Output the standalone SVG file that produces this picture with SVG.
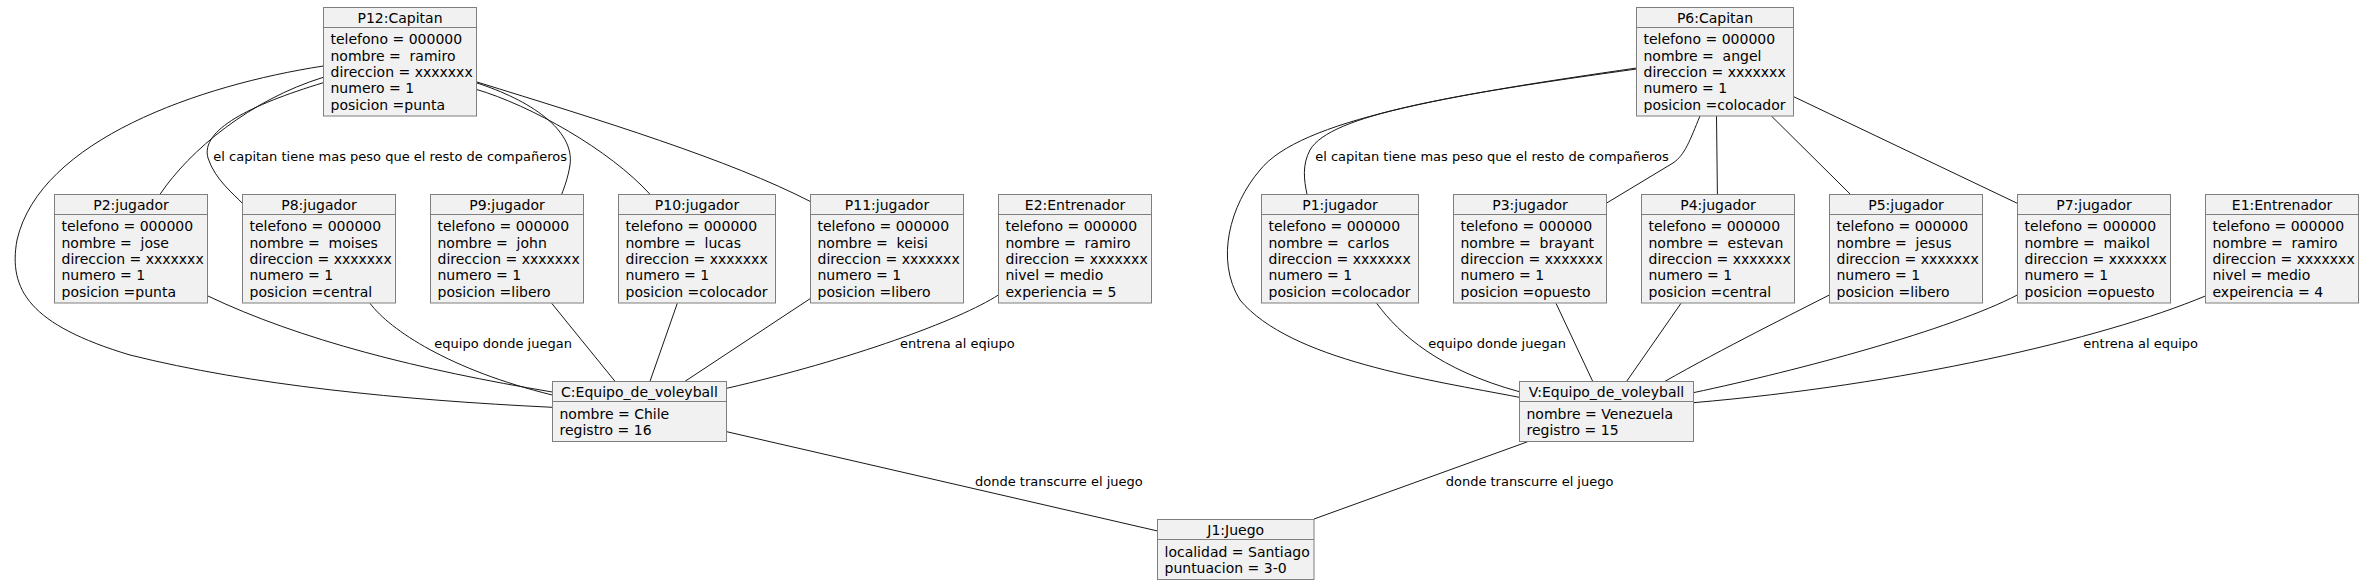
<svg xmlns="http://www.w3.org/2000/svg" width="2364" height="585" viewBox="0 0 2364 585">
<style>
.box{fill:#F1F1F1;stroke:#7F7F7F;stroke-width:1}
.sep{stroke:#7F7F7F;stroke-width:1}
.h{font-family:"DejaVu Sans",sans-serif;font-size:14px;text-anchor:middle;fill:#000}
.a{font-family:"DejaVu Sans",sans-serif;font-size:14px;fill:#000;white-space:pre}
.lbl{font-family:"DejaVu Sans",sans-serif;font-size:13px;fill:#000;white-space:pre}
.ln{fill:none;stroke:#181818;stroke-width:1}
</style>
<rect width="2364" height="585" fill="#FFFFFF"/>

<g id="connectors">
<!-- P12 links -->
<path class="ln" d="M323.3,66 C200,85 40,140 17,240 C8,290 30,325 130,355 C250,385 400,400 552.3,407.3"/>
<path class="ln" d="M323.3,77.3 C250,100 190,150 160,194.3"/>
<path class="ln" d="M323.3,82.7 C250,105 200,130 208,158 C215,180 235,195 242.3,203.3"/>
<path class="ln" d="M476,82.7 C530,100 575,130 570,165 C568,178 564,188 561.7,194.3"/>
<path class="ln" d="M476,89.3 C530,105 610,150 650,194.3"/>
<path class="ln" d="M476,81.7 C600,120 730,160 810.7,201.7"/>
<!-- to C -->
<path class="ln" d="M207.3,295.7 C300,340 420,370 552.3,392"/>
<path class="ln" d="M370,303.3 C390,330 450,370 552.3,395"/>
<path class="ln" d="M551.7,303.3 L615,381.3"/>
<path class="ln" d="M677.3,303.3 L650,381.3"/>
<path class="ln" d="M810.7,298.3 L685,381.3"/>
<path class="ln" d="M998.3,295 C960,320 850,360 726.7,388.3"/>
<path class="ln" d="M726.7,431.7 L1157.7,531"/>
<!-- P6 links -->
<path class="ln" d="M1636.6,68 C1450,95 1300,120 1260,170 C1230,205 1215,260 1240,300 C1290,360 1430,380 1519.3,397.3"/>
<path class="ln" d="M1636.6,69 C1450,95 1330,115 1310,150 C1302,165 1304,180 1307,194.3"/>
<path class="ln" d="M1700,116 C1690,140 1685,155 1673,163 L1606.2,203.3"/>
<path class="ln" d="M1716.5,116 L1717.4,194.3"/>
<path class="ln" d="M1771.4,116 L1850.4,194.3"/>
<path class="ln" d="M1793.7,96.7 L2017.3,203.3"/>
<!-- to V -->
<path class="ln" d="M1376.7,303.3 C1400,335 1440,370 1519.3,391.7"/>
<path class="ln" d="M1556,303.3 L1592.7,381.3"/>
<path class="ln" d="M1681,303.3 L1626.7,381.3"/>
<path class="ln" d="M1829.3,295 C1800,310 1720,350 1665,381.3"/>
<path class="ln" d="M2017.3,295 C1950,330 1800,370 1693.3,392.7"/>
<path class="ln" d="M2205.3,296 C2100,340 1900,385 1693.3,402.7"/>
<path class="ln" d="M1527.7,441.7 L1314,519"/>
<!-- labels -->
<text class="lbl" x="213.3" y="160.5">el capitan tiene mas peso que el resto de compañeros</text>
<text class="lbl" x="1315.2" y="160.5">el capitan tiene mas peso que el resto de compañeros</text>
<text class="lbl" x="434.3" y="347.5">equipo donde juegan</text>
<text class="lbl" x="900" y="347.5">entrena al eqiupo</text>
<text class="lbl" x="975" y="485.5">donde transcurre el juego</text>
<text class="lbl" x="1428.3" y="347.5">equipo donde juegan</text>
<text class="lbl" x="2083.3" y="347.5">entrena al equipo</text>
<text class="lbl" x="1445.7" y="485.5">donde transcurre el juego</text>
</g>

<g id="P12" transform="translate(323.5,7.5)">
<rect class="box" width="153" height="108.5"/><line class="sep" x1="0" y1="20" x2="153" y2="20"/>
<text class="h" x="76.5" y="15">P12:Capitan</text>
<text class="a" x="7" y="36.8">telefono = 000000</text><text class="a" x="7" y="53.1">nombre =  ramiro</text><text class="a" x="7" y="69.4">direccion = xxxxxxx</text><text class="a" x="7" y="85.7">numero = 1</text><text class="a" x="7" y="102">posicion =punta</text>
</g>
<g id="P6" transform="translate(1636.5,7.5)">
<rect class="box" width="157" height="108.5"/><line class="sep" x1="0" y1="20" x2="157" y2="20"/>
<text class="h" x="78.5" y="15">P6:Capitan</text>
<text class="a" x="7" y="36.8">telefono = 000000</text><text class="a" x="7" y="53.1">nombre =  angel</text><text class="a" x="7" y="69.4">direccion = xxxxxxx</text><text class="a" x="7" y="85.7">numero = 1</text><text class="a" x="7" y="102">posicion =colocador</text>
</g>

<g id="P2" transform="translate(54.5,194.5)">
<rect class="box" width="153" height="108.5"/><line class="sep" x1="0" y1="20" x2="153" y2="20"/>
<text class="h" x="76.5" y="15">P2:jugador</text>
<text class="a" x="7" y="36.8">telefono = 000000</text><text class="a" x="7" y="53.1">nombre =  jose</text><text class="a" x="7" y="69.4">direccion = xxxxxxx</text><text class="a" x="7" y="85.7">numero = 1</text><text class="a" x="7" y="102">posicion =punta</text>
</g>
<g id="P8" transform="translate(242.5,194.5)">
<rect class="box" width="153" height="108.5"/><line class="sep" x1="0" y1="20" x2="153" y2="20"/>
<text class="h" x="76.5" y="15">P8:jugador</text>
<text class="a" x="7" y="36.8">telefono = 000000</text><text class="a" x="7" y="53.1">nombre =  moises</text><text class="a" x="7" y="69.4">direccion = xxxxxxx</text><text class="a" x="7" y="85.7">numero = 1</text><text class="a" x="7" y="102">posicion =central</text>
</g>
<g id="P9" transform="translate(430.5,194.5)">
<rect class="box" width="153" height="108.5"/><line class="sep" x1="0" y1="20" x2="153" y2="20"/>
<text class="h" x="76.5" y="15">P9:jugador</text>
<text class="a" x="7" y="36.8">telefono = 000000</text><text class="a" x="7" y="53.1">nombre =  john</text><text class="a" x="7" y="69.4">direccion = xxxxxxx</text><text class="a" x="7" y="85.7">numero = 1</text><text class="a" x="7" y="102">posicion =libero</text>
</g>
<g id="P10" transform="translate(618.5,194.5)">
<rect class="box" width="157" height="108.5"/><line class="sep" x1="0" y1="20" x2="157" y2="20"/>
<text class="h" x="78.5" y="15">P10:jugador</text>
<text class="a" x="7" y="36.8">telefono = 000000</text><text class="a" x="7" y="53.1">nombre =  lucas</text><text class="a" x="7" y="69.4">direccion = xxxxxxx</text><text class="a" x="7" y="85.7">numero = 1</text><text class="a" x="7" y="102">posicion =colocador</text>
</g>
<g id="P11" transform="translate(810.5,194.5)">
<rect class="box" width="153" height="108.5"/><line class="sep" x1="0" y1="20" x2="153" y2="20"/>
<text class="h" x="76.5" y="15">P11:jugador</text>
<text class="a" x="7" y="36.8">telefono = 000000</text><text class="a" x="7" y="53.1">nombre =  keisi</text><text class="a" x="7" y="69.4">direccion = xxxxxxx</text><text class="a" x="7" y="85.7">numero = 1</text><text class="a" x="7" y="102">posicion =libero</text>
</g>
<g id="E2" transform="translate(998.5,194.5)">
<rect class="box" width="153" height="108.5"/><line class="sep" x1="0" y1="20" x2="153" y2="20"/>
<text class="h" x="76.5" y="15">E2:Entrenador</text>
<text class="a" x="7" y="36.8">telefono = 000000</text><text class="a" x="7" y="53.1">nombre =  ramiro</text><text class="a" x="7" y="69.4">direccion = xxxxxxx</text><text class="a" x="7" y="85.7">nivel = medio</text><text class="a" x="7" y="102">experiencia = 5</text>
</g>
<g id="P1" transform="translate(1261.5,194.5)">
<rect class="box" width="157" height="108.5"/><line class="sep" x1="0" y1="20" x2="157" y2="20"/>
<text class="h" x="78.5" y="15">P1:jugador</text>
<text class="a" x="7" y="36.8">telefono = 000000</text><text class="a" x="7" y="53.1">nombre =  carlos</text><text class="a" x="7" y="69.4">direccion = xxxxxxx</text><text class="a" x="7" y="85.7">numero = 1</text><text class="a" x="7" y="102">posicion =colocador</text>
</g>
<g id="P3" transform="translate(1453.5,194.5)">
<rect class="box" width="153" height="108.5"/><line class="sep" x1="0" y1="20" x2="153" y2="20"/>
<text class="h" x="76.5" y="15">P3:jugador</text>
<text class="a" x="7" y="36.8">telefono = 000000</text><text class="a" x="7" y="53.1">nombre =  brayant</text><text class="a" x="7" y="69.4">direccion = xxxxxxx</text><text class="a" x="7" y="85.7">numero = 1</text><text class="a" x="7" y="102">posicion =opuesto</text>
</g>
<g id="P4" transform="translate(1641.5,194.5)">
<rect class="box" width="153" height="108.5"/><line class="sep" x1="0" y1="20" x2="153" y2="20"/>
<text class="h" x="76.5" y="15">P4:jugador</text>
<text class="a" x="7" y="36.8">telefono = 000000</text><text class="a" x="7" y="53.1">nombre =  estevan</text><text class="a" x="7" y="69.4">direccion = xxxxxxx</text><text class="a" x="7" y="85.7">numero = 1</text><text class="a" x="7" y="102">posicion =central</text>
</g>
<g id="P5" transform="translate(1829.5,194.5)">
<rect class="box" width="153" height="108.5"/><line class="sep" x1="0" y1="20" x2="153" y2="20"/>
<text class="h" x="76.5" y="15">P5:jugador</text>
<text class="a" x="7" y="36.8">telefono = 000000</text><text class="a" x="7" y="53.1">nombre =  jesus</text><text class="a" x="7" y="69.4">direccion = xxxxxxx</text><text class="a" x="7" y="85.7">numero = 1</text><text class="a" x="7" y="102">posicion =libero</text>
</g>
<g id="P7" transform="translate(2017.5,194.5)">
<rect class="box" width="153" height="108.5"/><line class="sep" x1="0" y1="20" x2="153" y2="20"/>
<text class="h" x="76.5" y="15">P7:jugador</text>
<text class="a" x="7" y="36.8">telefono = 000000</text><text class="a" x="7" y="53.1">nombre =  maikol</text><text class="a" x="7" y="69.4">direccion = xxxxxxx</text><text class="a" x="7" y="85.7">numero = 1</text><text class="a" x="7" y="102">posicion =opuesto</text>
</g>
<g id="E1" transform="translate(2205.5,194.5)">
<rect class="box" width="153" height="108.5"/><line class="sep" x1="0" y1="20" x2="153" y2="20"/>
<text class="h" x="76.5" y="15">E1:Entrenador</text>
<text class="a" x="7" y="36.8">telefono = 000000</text><text class="a" x="7" y="53.1">nombre =  ramiro</text><text class="a" x="7" y="69.4">direccion = xxxxxxx</text><text class="a" x="7" y="85.7">nivel = medio</text><text class="a" x="7" y="102">expeirencia = 4</text>
</g>

<g id="C" transform="translate(552.5,381.5)">
<rect class="box" width="174" height="60"/><line class="sep" x1="0" y1="20" x2="174" y2="20"/>
<text class="h" x="87" y="15">C:Equipo_de_voleyball</text>
<text class="a" x="7" y="37">nombre = Chile</text><text class="a" x="7" y="53.5">registro = 16</text>
</g>
<g id="V" transform="translate(1519.5,381.5)">
<rect class="box" width="174" height="60"/><line class="sep" x1="0" y1="20" x2="174" y2="20"/>
<text class="h" x="87" y="15">V:Equipo_de_voleyball</text>
<text class="a" x="7" y="37">nombre = Venezuela</text><text class="a" x="7" y="53.5">registro = 15</text>
</g>
<g id="J1" transform="translate(1157.5,519.5)">
<rect class="box" width="156.5" height="60"/><line class="sep" x1="0" y1="20" x2="156.5" y2="20"/>
<text class="h" x="78.25" y="15">J1:Juego</text>
<text class="a" x="7" y="37">localidad = Santiago</text><text class="a" x="7" y="53.5">puntuacion = 3-0</text>
</g>
</svg>
